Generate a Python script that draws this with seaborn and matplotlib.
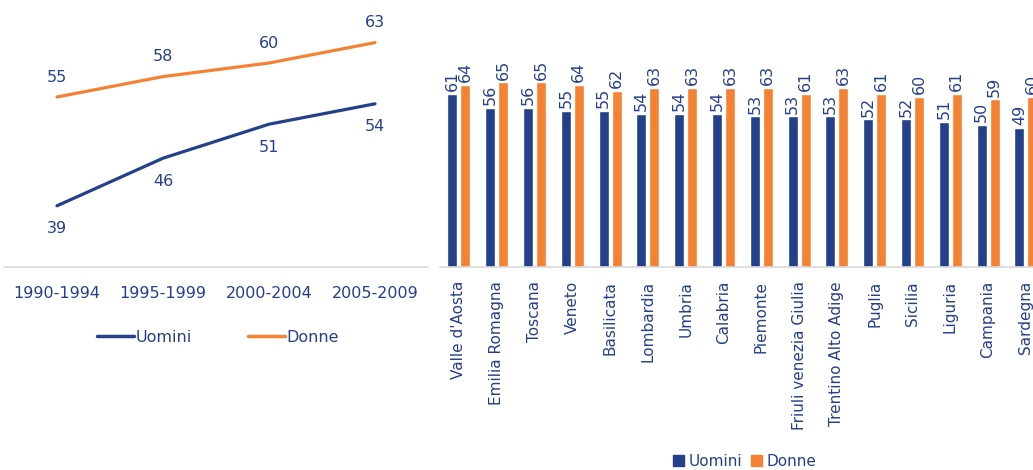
import pandas as pd
import matplotlib.pyplot as plt
from matplotlib.lines import Line2D
from matplotlib.patches import Patch
import seaborn as sns

# --- data ---
periods = ['1990-1994', '1995-1999', '2000-2004', '2005-2009']
uomini_trend = [39, 46, 51, 54]
donne_trend = [55, 58, 60, 63]

regions = ["Valle d'Aosta", 'Emilia Romagna', 'Toscana', 'Veneto', 'Basilicata',
           'Lombardia', 'Umbria', 'Calabria', 'Piemonte', 'Friuli venezia Giulia',
           'Trentino Alto Adige', 'Puglia', 'Sicilia', 'Liguria', 'Campania', 'Sardegna']
uomini_reg = [61, 56, 56, 55, 55, 54, 54, 54, 53, 53, 53, 52, 52, 51, 50, 49]
donne_reg = [64, 65, 65, 64, 62, 63, 63, 63, 63, 61, 63, 61, 60, 61, 59, 60]

series = ['Uomini', 'Donne']
BLUE = '#22418A'
ORANGE = '#F58233'
TXT = '#263F8C'
GRID = '#D9D9D9'
palette = {'Uomini': BLUE, 'Donne': ORANGE}

sns.set_style('white')
plt.rcParams['font.family'] = ['DejaVu Sans']

trend = pd.DataFrame({
    'periodo': periods * 2,
    'valore': uomini_trend + donne_trend,
    'sesso': ['Uomini'] * len(periods) + ['Donne'] * len(periods),
})
reg = pd.DataFrame({
    'regione': regions * 2,
    'valore': uomini_reg + donne_reg,
    'sesso': ['Uomini'] * len(regions) + ['Donne'] * len(regions),
})

W, H = 1033, 470
fig = plt.figure(figsize=(W / 100, H / 100), dpi=100)

# --- left: line chart ---
ax1 = fig.add_axes([4 / W, 1 - 267 / H, 424 / W, 267 / H])
sns.lineplot(data=trend, x='periodo', y='valore', hue='sesso', hue_order=series,
             palette=palette, linewidth=2.3, sort=False, legend=False, ax=ax1)
ax1.set_xlim(-0.5, 3.5)
ax1.set_ylim(30, 30 + 267 / 6.8)
for i, v in enumerate(donne_trend):
    ax1.annotate(str(v), (i, v), xytext=(0, 20), textcoords='offset pixels',
                 ha='center', va='center', fontsize=11.5, color=TXT)
for i, v in enumerate(uomini_trend):
    ax1.annotate(str(v), (i, v), xytext=(0, -23), textcoords='offset pixels',
                 ha='center', va='center', fontsize=11.5, color=TXT)
ax1.set_xlabel('')
ax1.set_ylabel('')
ax1.set_yticks([])
ax1.tick_params(axis='x', length=0, pad=14, labelsize=11.5, labelcolor=TXT)
for s in ['top', 'left', 'right']:
    ax1.spines[s].set_visible(False)
ax1.spines['bottom'].set_color(GRID)
ax1.spines['bottom'].set_linewidth(1.2)

line_handles = [Line2D([0], [0], color=palette[s], lw=2.5) for s in series]
fig.legend(line_handles, series, loc='center', bbox_to_anchor=(218 / W, 1 - 337 / H),
           ncol=2, frameon=False, fontsize=11.5, labelcolor=TXT,
           handlelength=2.3, handletextpad=0.1, columnspacing=3.5)

# --- right: bar chart (cut at the right edge as in the original) ---
n = len(regions)
ax2 = fig.add_axes([440 / W, 1 - 267 / H, n * 37.8 / W, 80 * 2.84 / H])
sns.barplot(data=reg, x='regione', y='valore', hue='sesso', hue_order=series,
            palette=palette, saturation=1, width=0.69, gap=0.23, legend=False, ax=ax2)
ax2.set_xlim(-0.5, n - 0.5)
ax2.set_ylim(0, 80)
for c in ax2.containers:
    ax2.bar_label(c, rotation=90, padding=2, fontsize=11.5, color=TXT)
ax2.set_xlabel('')
ax2.set_ylabel('')
ax2.set_yticks([])
ax2.tick_params(axis='x', length=0, pad=10, labelsize=11, labelcolor=TXT, rotation=90)
for s in ['top', 'left', 'right']:
    ax2.spines[s].set_visible(False)
ax2.spines['bottom'].set_color(GRID)
ax2.spines['bottom'].set_linewidth(1.2)

bar_handles = [Patch(color=palette[s]) for s in series]
fig.legend(bar_handles, series, loc='center', bbox_to_anchor=(745 / W, 1 - 461 / H),
           ncol=2, frameon=False, fontsize=11, labelcolor=TXT,
           handlelength=0.7, handleheight=0.7, handletextpad=0.3, columnspacing=0.6)

fig.savefig('out.png', dpi=100)
